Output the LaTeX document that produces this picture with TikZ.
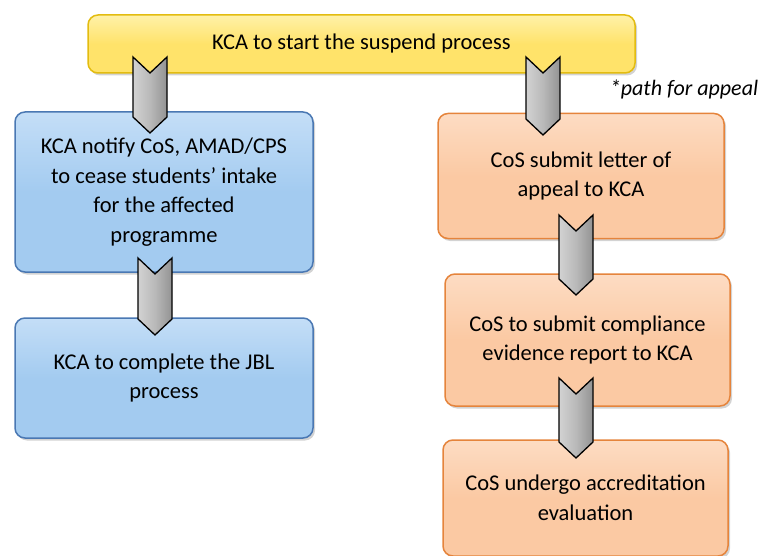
\documentclass[tikz,border=0pt]{standalone}
\usepackage{fontspec}
\setmainfont{Carlito}
\usetikzlibrary{calc,shadows}

\definecolor{yelfill}{HTML}{FFE36A}
\definecolor{yeltop}{HTML}{FFF1A8}
\definecolor{yelline}{HTML}{E3BC10}
\definecolor{bluefill}{HTML}{A3CBF0}
\definecolor{bluetop}{HTML}{C4DEF7}
\definecolor{blueline}{HTML}{4A78B3}
\definecolor{orgfill}{HTML}{FBC9A3}
\definecolor{orgtop}{HTML}{FDDCC3}
\definecolor{orgline}{HTML}{E5843C}

% chevron arrow from top centre #1 down to tip #2
\newcommand{\chevron}[2]{%
  \draw[chev] ($(#1)+(-17,0)$) -- ($(#1)+(0,16)$) -- ($(#1)+(17,0)$)
    -- ($(#2)+(17,-16)$) -- (#2) -- ($(#2)+(-17,-16)$) -- cycle;}

\begin{document}
\begin{tikzpicture}[
    x = 1pt,
    y = -1pt,
    font = \fontsize{22.5}{29.5}\selectfont,
    box/.style = {rounded corners=10pt, line width=1.5pt, align=center,
    inner sep=4pt, drop shadow={opacity=0.35, shadow xshift=2pt, shadow yshift=-2.5pt}},
    yelbox/.style = {box, draw=yelline, top color=yeltop, bottom color=yelfill,
    middle color=yelfill},
    bluebox/.style = {box, draw=blueline, top color=bluetop, bottom color=bluefill,
    middle color=bluefill},
    orgbox/.style = {box, draw=orgline, top color=orgtop, bottom color=orgfill,
    middle color=orgfill},
    chev/.style = {draw=black, line width=1.3pt, line join=miter,
    left color=gray!35, right color=gray!85, middle color=gray!55},
]

\useasboundingbox (0,0) rectangle (760,556);

\node[yelbox, minimum width=547pt, minimum height=58pt] (start) at (361.5,44)
    {KCA to start the suspend process};

\node[bluebox, minimum width=298pt, minimum height=160pt] (notify) at (164,192)
    {KCA notify CoS, AMAD/CPS\\to cease students' intake\\for the affected\\programme};
\node[bluebox, minimum width=298pt, minimum height=120pt] (jbl) at (164,378)
    {KCA to complete the JBL\\process};

\node[orgbox, minimum width=286pt, minimum height=125pt] (letter) at (581,176)
    {CoS submit letter of\\appeal to KCA};
\node[orgbox, minimum width=285pt, minimum height=132pt] (report) at (587.5,340)
    {CoS to submit compliance\\evidence report to KCA};
\node[orgbox, minimum width=285pt, minimum height=116pt] (evaluation) at (585.5,498)
    {CoS undergo accreditation\\evaluation};

\node[font=\fontsize{22}{26}\selectfont\itshape] (appeal) at (684,89) {*path for appeal};

% arrows
\coordinate (a1s) at (150,57);
\coordinate (a1e) at (150,133);
\coordinate (a2s) at (155,258);
\coordinate (a2e) at (155,335);
\coordinate (a3s) at (543,57);
\coordinate (a3e) at (543,135);
\coordinate (a4s) at (576,215);
\coordinate (a4e) at (576,295);
\coordinate (a5s) at (576,378);
\coordinate (a5e) at (576,458);

\chevron{a1s}{a1e}
\chevron{a2s}{a2e}
\chevron{a3s}{a3e}
\chevron{a4s}{a4e}
\chevron{a5s}{a5e}

\end{tikzpicture}
\end{document}
